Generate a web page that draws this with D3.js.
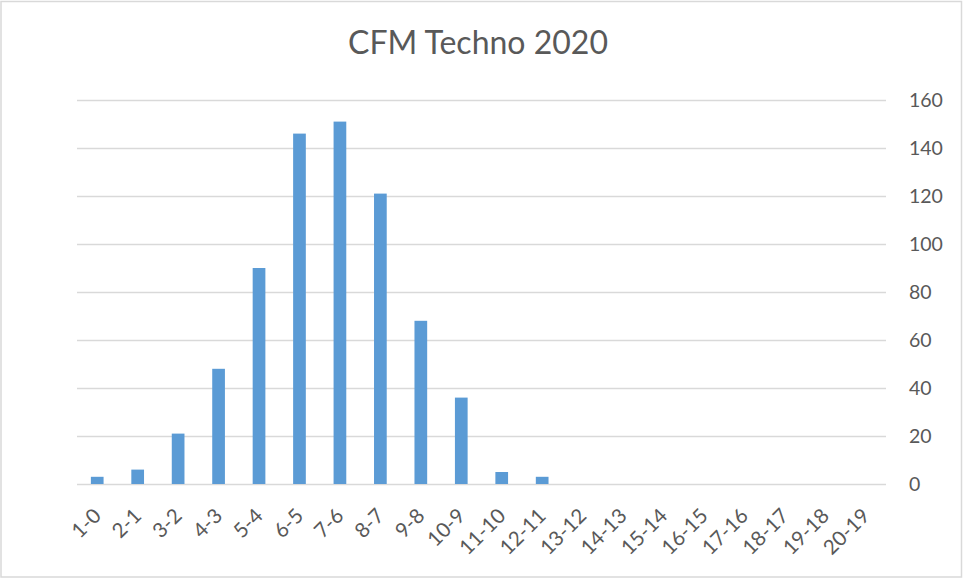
<!DOCTYPE html>
<html>
<head>
<meta charset="utf-8">
<script src="https://cdn.jsdelivr.net/npm/d3@7"></script>
<style>
  html, body { margin: 0; padding: 0; background: #fff; }
  svg { display: block; }
  text { font-family: Lato, "Open Sans", sans-serif; fill: #595959; }
</style>
</head>
<body>
<svg id="chart" width="963" height="579"></svg>
<script>
const title = "CFM Techno 2020";
const categories = ["1-0","2-1","3-2","4-3","5-4","6-5","7-6","8-7","9-8","10-9",
  "11-10","12-11","13-12","14-13","15-14","16-15","17-16","18-17","19-18","20-19"];
const values = [3, 6, 21, 48, 90, 146, 151, 121, 68, 36, 5, 3, 0, 0, 0, 0, 0, 0, 0, 0];
const yTicks = [0, 20, 40, 60, 80, 100, 120, 140, 160];

const svg = d3.select("#chart");
const W = 963, H = 579;
const plot = { left: 77, right: 886, top: 100, bottom: 484 };

// outer border
svg.append("rect")
  .attr("x", 1).attr("y", 1.5).attr("width", W - 2.5).attr("height", H - 3.5)
  .attr("fill", "#fff").attr("stroke", "#d9d9d9").attr("stroke-width", 1.5);

// title
const t = svg.append("text")
  .attr("x", 478).attr("y", 54)
  .attr("text-anchor", "middle")
  .style("font-size", "28px")
  .text(title);
const tw = t.node().getComputedTextLength();
t.style("font-size", (28 * 260 / tw).toFixed(2) + "px");

const x = d3.scaleBand()
  .domain(categories)
  .range([plot.left, plot.right])
  .paddingInner(0.686)
  .paddingOuter(0.343);

const y = d3.scaleLinear()
  .domain([0, 160])
  .range([plot.bottom, plot.top]);

// gridlines
const grid = svg.append("g")
  .attr("transform", `translate(${plot.left},0)`)
  .call(d3.axisLeft(y).tickValues(yTicks).tickSize(-(plot.right - plot.left)).tickFormat(""));
grid.select(".domain").remove();
grid.selectAll("line").attr("stroke", "#d9d9d9").attr("stroke-width", 1.6);

// y axis labels on right
const ya = svg.append("g")
  .attr("transform", `translate(${plot.right},0)`)
  .call(d3.axisRight(y).tickValues(yTicks).tickSize(0).tickPadding(23));
ya.select(".domain").remove();
ya.selectAll("text")
  .attr("fill", "#595959")
  .style("font-family", "Lato, 'Open Sans', sans-serif")
  .style("font-size", "19.5px")
  .attr("text-anchor", "start");

// bars
svg.append("g").selectAll("rect")
  .data(values)
  .join("rect")
  .attr("x", (d, i) => x(categories[i]))
  .attr("width", x.bandwidth())
  .attr("y", d => y(d))
  .attr("height", d => y(0) - y(d))
  .attr("fill", "#5b9bd5");

// x axis labels
const xa = svg.append("g")
  .attr("transform", `translate(0,${plot.bottom})`)
  .call(d3.axisBottom(x).tickSize(0).tickPadding(0));
xa.select(".domain").remove();
xa.selectAll("text")
  .attr("fill", "#595959")
  .style("font-family", "Lato, 'Open Sans', sans-serif")
  .style("font-size", "20.5px")
  .attr("text-anchor", "end")
  .attr("dy", "0.35em")
  .attr("y", 0)
  .attr("transform", "translate(0,28) rotate(-45)");
</script>
</body>
</html>
